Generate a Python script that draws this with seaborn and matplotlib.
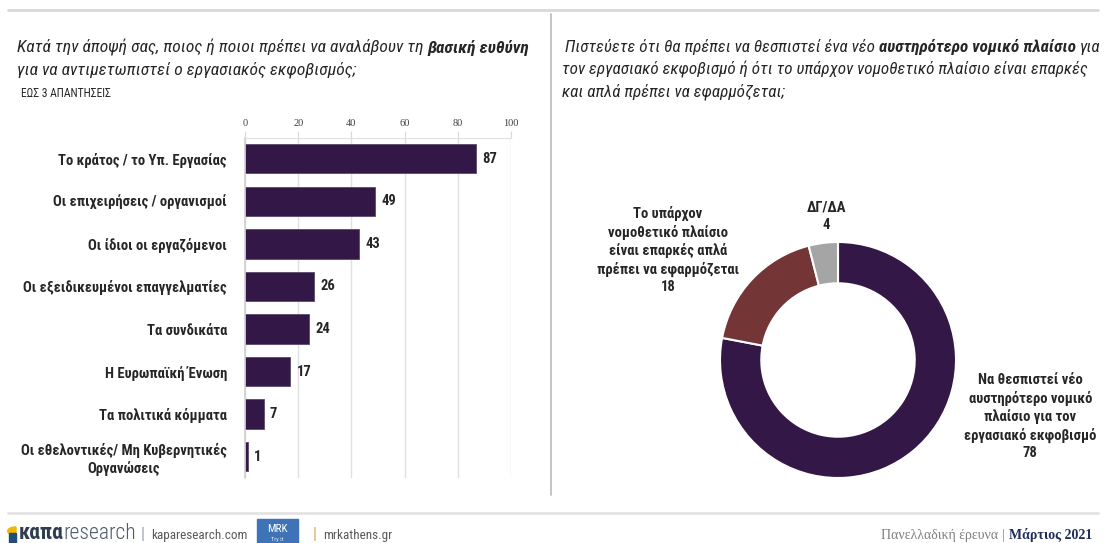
import numpy as np
import pandas as pd
import matplotlib
matplotlib.use("Agg")
import matplotlib.pyplot as plt
import matplotlib.patches as mpatches
import seaborn as sns

# ---- data -------------------------------------------------------------
categories = [
    "Το κράτος / το Υπ. Εργασίας",
    "Οι επιχειρήσεις / οργανισμοί",
    "Οι ίδιοι οι εργαζόμενοι",
    "Οι εξειδικευμένοι επαγγελματίες",
    "Τα συνδικάτα",
    "Η Ευρωπαϊκή Ένωση",
    "Τα πολιτικά κόμματα",
    "Οι εθελοντικές/ Μη Κυβερνητικές\nΟργανώσεις",
]
shares = [87, 49, 43, 26, 24, 17, 7, 1]
x_ticks = [0, 20, 40, 60, 80, 100]

donut_labels = [
    "Να θεσπιστεί νέο\nαυστηρότερο νομικό\nπλαίσιο για τον\nεργασιακό εκφοβισμό",
    "Το υπάρχον\nνομοθετικό πλαίσιο\nείναι επαρκές απλά\nπρέπει να εφαρμόζεται",
    "ΔΓ/ΔΑ",
]
donut_values = [78, 18, 4]

# ---- style ------------------------------------------------------------
sns.set_style("white")
NARROW = ["Roboto Condensed", "Liberation Sans", "DejaVu Sans"]
SERIF = ["Liberation Serif", "DejaVu Serif"]
plt.rcParams["font.family"] = NARROW

PURPLE = "#321747"
MAROON = "#733535"
GREY = "#a5a5a5"
TEXT = "#262626"

W, H = 1106, 543
fig = plt.figure(figsize=(W / 100, H / 100), dpi=100)
renderer = fig.canvas.get_renderer()


def fx(x):
    return x / W


def fy(y):
    return 1 - y / H


# ---- frame lines ------------------------------------------------------
fig.add_artist(plt.Line2D([fx(8), fx(1098)], [fy(10), fy(10)], color="#d9d9d9", lw=2))
fig.add_artist(plt.Line2D([fx(551), fx(551)], [fy(14), fy(495)], color="#bfbfbf", lw=1.3))
fig.add_artist(plt.Line2D([fx(8), fx(1098)], [fy(513), fy(513)], color="#e3e3e3", lw=2))

# ---- left title -------------------------------------------------------
it = dict(fontsize=12.6, style="italic", color=TEXT, family=NARROW)
itb = dict(fontsize=12.6, style="italic", weight="bold", color=TEXT, family=NARROW)
t1 = fig.text(fx(17), fy(53), "Κατά την άποψή σας, ποιος ή ποιοι πρέπει να αναλάβουν τη", va="baseline", **it)
e = t1.get_window_extent(renderer)
fig.text((e.x1 + 4) / W, fy(53), "βασική ευθύνη", va="baseline", **itb)
fig.text(fx(17), fy(75), "για να αντιμετωπιστεί ο εργασιακός εκφοβισμός;", va="baseline", **it)
fig.text(fx(21), fy(97), "ΕΩΣ 3 ΑΠΑΝΤΗΣΕΙΣ", va="baseline", fontsize=8.3, color=TEXT, family=NARROW)

# ---- bar chart --------------------------------------------------------
ax = fig.add_axes([fx(245), fy(478), 266 / W, (478 - 137.5) / H])
df = pd.DataFrame({"category": categories, "share": shares})
sns.barplot(data=df, x="share", y="category", orient="h", color=PURPLE,
            width=0.69, edgecolor="#5b4a6b", linewidth=0.6, saturation=1, ax=ax)
ax.set_xlim(0, 100)
ax.set_ylim(len(categories) - 0.5, -0.5)
ax.set_xlabel("")
ax.set_ylabel("")
ax.xaxis.tick_top()
ax.set_xticks(x_ticks)
ax.set_xticklabels([str(v) for v in x_ticks], family=SERIF, fontsize=7.5, color="#404040")
ax.tick_params(axis="x", which="major", length=5, color="#d9d9d9", pad=2, top=True, bottom=False)
ax.grid(axis="x", color="#e0e0e0", lw=1)
ax.set_axisbelow(True)
for side in ["right", "bottom"]:
    ax.spines[side].set_visible(False)
ax.spines["top"].set_color("#e0e0e0")
ax.spines["left"].set_color("#d0d0d0")
ax.spines["left"].set_linewidth(1.2)
ax.set_yticks(np.arange(len(categories)))
ax.set_yticklabels(categories, fontsize=10.5, weight="bold", color=TEXT)
for lbl in ax.get_yticklabels():
    lbl.set_multialignment("center")
ax.tick_params(axis="y", which="major", length=0, pad=13)
ax.set_yticks(np.arange(len(categories) + 1) - 0.5, minor=True)
ax.tick_params(axis="y", which="minor", length=5, color="#d9d9d9", width=1)
for c in ax.containers:
    ax.bar_label(c, labels=[str(v) for v in shares], padding=4.5,
                 fontsize=10.5, weight="bold", color=TEXT)

# ---- right title ------------------------------------------------------
itr = dict(it, fontsize=12.3)
itrb = dict(itb, fontsize=12.3)
t2 = fig.text(fx(565), fy(52), "Πιστεύετε ότι θα πρέπει να θεσπιστεί ένα νέο", va="baseline", **itr)
e = t2.get_window_extent(renderer)
t3 = fig.text((e.x1 + 4) / W, fy(52), "αυστηρότερο νομικό πλαίσιο", va="baseline", **itrb)
e = t3.get_window_extent(renderer)
fig.text((e.x1 + 4) / W, fy(52), "για", va="baseline", **itr)
fig.text(fx(562), fy(74), "τον εργασιακό εκφοβισμό ή ότι το υπάρχον νομοθετικό πλαίσιο είναι επαρκές",
         va="baseline", **itr)
fig.text(fx(562), fy(96), "και απλά πρέπει να εφαρμόζεται;", va="baseline", **itr)

# ---- donut ------------------------------------------------------------
R = 118
cx, cy = 838, 360
ax2 = fig.add_axes([fx(cx - R), fy(cy + R), 2 * R / W, 2 * R / H])
ax2.pie(donut_values, colors=[PURPLE, MAROON, GREY], startangle=90, counterclock=False,
        radius=1, wedgeprops=dict(width=0.35, edgecolor="white", linewidth=1.5))
ax2.set_xlim(-1, 1)
ax2.set_ylim(-1, 1)
ax2.set_aspect("equal")
ax2.axis("off")

label_pos = [(1.63, -0.48), (-1.44, 0.93), (-0.10, 1.22)]
for (lx, ly), name, v in zip(label_pos, donut_labels, donut_values):
    ax2.text(lx, ly, f"{name}\n{v}", ha="center", va="center", multialignment="center",
             fontsize=10.5, weight="bold", color=TEXT, linespacing=1.3, clip_on=False)

# ---- footer -----------------------------------------------------------
base = 539
# logo mark
fig.add_artist(mpatches.Wedge((fx(16), fy(531)), 0.0075, 90, 270, color="#f2b705",
                              transform=fig.transFigure))
fig.add_artist(mpatches.Rectangle((fx(9), fy(543)), 7 / W, 10 / H, color="#1f4e79",
                                  transform=fig.transFigure))
t = fig.text(fx(19), fy(base), "καπα", va="baseline", fontsize=15.5, weight="bold",
             color="#2f3d4f", family=NARROW)
e = t.get_window_extent(renderer)
fig.text(e.x1 / W, fy(base), "research", va="baseline", fontsize=15.5, weight="light",
         color="#4d5a6b", family=NARROW)
fig.text(fx(141), fy(base), "|", va="baseline", fontsize=12, color="#9aa5b5")
fig.text(fx(151), fy(base), "kaparesearch.com", va="baseline", fontsize=9.5, color="#595959")
fig.add_artist(mpatches.Rectangle((fx(257), fy(543)), 41 / W, 24 / H, color="#3f73b8",
                                  transform=fig.transFigure))
fig.text(fx(277.5), fy(532), "MRK", ha="center", va="baseline", fontsize=8, color="white")
fig.text(fx(277.5), fy(541), "Try it", ha="center", va="baseline", fontsize=4.5, color="#dde6f3")
fig.text(fx(313), fy(base), "|", va="baseline", fontsize=12, color="#e9a35f")
fig.text(fx(323), fy(base), "mrkathens.gr", va="baseline", fontsize=9.5, color="#595959")

t = fig.text(fx(1092), fy(base), "Μάρτιος 2021", ha="right", va="baseline", fontsize=10,
             weight="bold", color="#1f2d5a", family=SERIF)
e = t.get_window_extent(renderer)
t = fig.text((e.x0 - 4) / W, fy(base), "|", ha="right", va="baseline", fontsize=10,
             color="#8c8c8c", family=SERIF)
e = t.get_window_extent(renderer)
fig.text((e.x0 - 4) / W, fy(base), "Πανελλαδική έρευνα", ha="right", va="baseline", fontsize=10,
         color="#7f7f7f", family=SERIF)

fig.savefig("out.png", dpi=100)
